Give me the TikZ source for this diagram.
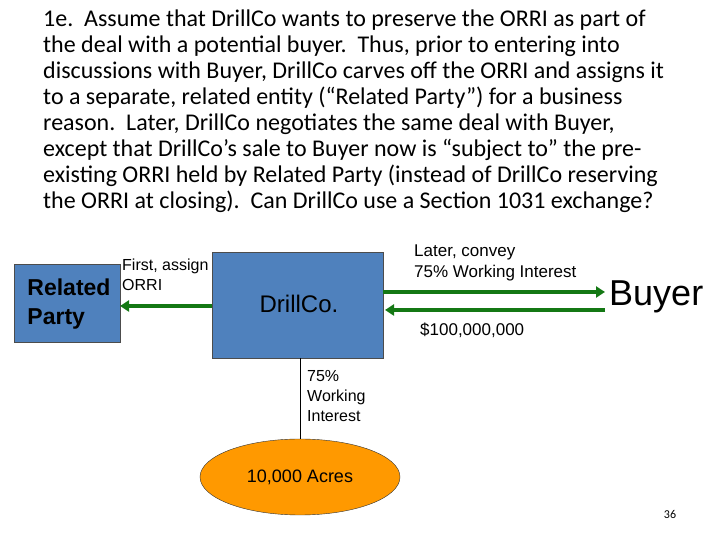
\documentclass[tikz,border=0pt]{standalone}
\usepackage{fontspec}
\setmainfont{Carlito}
\newfontfamily\arialf{Liberation Sans}
\usetikzlibrary{arrows.meta,shapes.geometric}
\definecolor{boxblue}{RGB}{79,129,189}
\definecolor{agreen}{RGB}{20,120,20}
\definecolor{orng}{RGB}{255,153,0}
\begin{document}
\begin{tikzpicture}[x=1pt,y=1pt,
  blue box/.style={draw=black!70,fill=boxblue,line width=0.6pt},
  garrow/.style={draw=agreen,line width=4pt,-{Triangle[length=9pt,width=11pt]}},
  lbl/.style={font=\arialf\fontsize{16}{20}\selectfont,align=left,inner sep=0pt}]
\useasboundingbox (0,0) rectangle (720,540);
\node[anchor=north west,inner sep=0pt,align=left,font=\fontsize{24}{26}\selectfont] (title) at (43,530)
{1e.\ \ Assume that DrillCo wants to preserve the ORRI as part of\\
the deal with a potential buyer.\ \ Thus, prior to entering into\\
discussions with Buyer, DrillCo carves off the ORRI and assigns it\\
to a separate, related entity (“Related Party”) for a business\\
reason.\ \ Later, DrillCo negotiates the same deal with Buyer,\\
except that DrillCo’s sale to Buyer now is “subject to” the pre-\\
existing ORRI held by Related Party (instead of DrillCo reserving\\
the ORRI at closing).\ \ Can DrillCo use a Section 1031 exchange?};
\path[blue box] (14,198) rectangle (120,276);
\node[font=\arialf\bfseries\fontsize{23}{29}\selectfont,align=left,inner sep=0pt] (rp) at (69,236) {Related\\Party};
\path[blue box] (212,182) rectangle (383,288);
\node[font=\arialf\fontsize{24}{28}\selectfont] (dc) at (299,236) {DrillCo.};
\coordinate (dl) at (212,234);
\coordinate (rpr) at (120,234);
\draw[garrow] (dl) -- (rpr);
\node[lbl,anchor=north west] (l1) at (122,281) {First, assign\\ORRI};
\coordinate (a1) at (383,248);
\coordinate (b1) at (605,248);
\coordinate (a2) at (605,230);
\coordinate (b2) at (385,230);
\draw[garrow] (a1) -- (b1);
\draw[garrow] (a2) -- (b2);
\node[font=\arialf\fontsize{17}{21}\selectfont,align=left,inner sep=0pt,anchor=north west] (l2) at (414,295) {Later, convey\\75\% Working Interest};
\node[font=\arialf\fontsize{17}{21}\selectfont,inner sep=0pt,anchor=west] (l3) at (420,210) {\$100,000,000};
\node[font=\arialf\fontsize{36}{40}\selectfont,inner sep=0pt,anchor=west] (buyer) at (609,243) {Buyer};
\node[draw=black!80,fill=orng,ellipse,minimum width=200pt,minimum height=76pt,inner sep=0pt] (acres) at (300,63) {\arialf\fontsize{18}{20}\selectfont 10,000 Acres};
\draw[line width=0.6pt] (acres.north |- 0,182) -- (acres.north);
\node[lbl,anchor=north west] (wi) at (307,170) {75\%\\Working\\Interest};
\node[font=\fontsize{12}{12}\selectfont,inner sep=0pt] (pg) at (670,26) {36};
\end{tikzpicture}
\end{document}
